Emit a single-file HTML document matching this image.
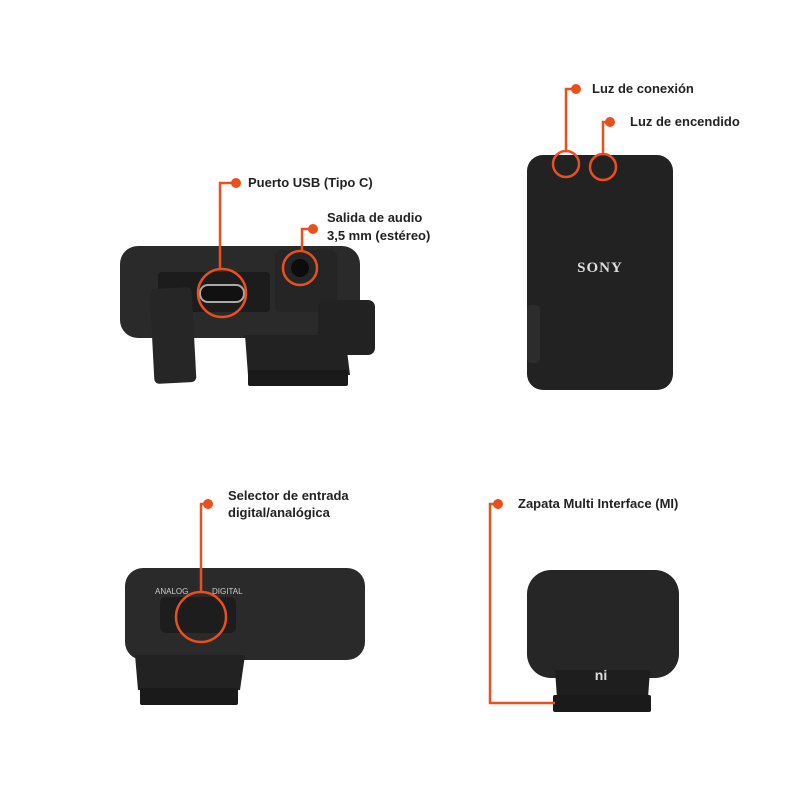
<!DOCTYPE html>
<html><head><meta charset="utf-8"><style>
html,body{margin:0;padding:0;background:#fff;}
svg text{font-family:"Liberation Sans",sans-serif;font-weight:bold;font-size:13px;fill:#222;}
</style></head><body>
<svg width="800" height="800" viewBox="0 0 800 800" xmlns="http://www.w3.org/2000/svg">
<rect width="800" height="800" fill="#fff"/>
<!-- Top-left device -->
<rect x="120" y="246" width="240" height="92" rx="18" fill="#2a2a2a"/>
<rect x="158" y="272" width="112" height="40" rx="4" fill="#1c1c1c"/>
<rect x="275" y="250" width="62" height="62" rx="6" fill="#252525"/>
<circle cx="300" cy="268" r="9" fill="#0c0c0c"/>
<rect x="200" y="285" width="44" height="17" rx="8" fill="#111" stroke="#aaa" stroke-width="2"/>
<path d="M245 335 L345 335 L350 375 L248 375 Z" fill="#222"/>
<rect x="248" y="370" width="100" height="16" rx="2" fill="#1a1a1a"/>
<rect x="152" y="288" width="42" height="95" rx="5" fill="#262626" transform="rotate(-3 173 335)"/>
<rect x="318" y="300" width="57" height="55" rx="7" fill="#222"/>
<!-- Top-right device -->
<rect x="527" y="155" width="146" height="235" rx="16" fill="#222"/>
<text x="600" y="272" text-anchor="middle" style="font-family:'Liberation Serif',serif;font-size:15px;fill:#ddd;letter-spacing:1px">SONY</text>
<rect x="527" y="305" width="13" height="58" rx="4" fill="#2c2c2c"/>
<!-- Bottom-left device -->
<rect x="125" y="568" width="240" height="92" rx="18" fill="#2a2a2a"/>
<rect x="160" y="597" width="76" height="36" rx="6" fill="#1d1d1d"/>
<text x="155" y="594" style="font-size:8px;fill:#ccc;font-weight:normal">ANALOG</text>
<text x="212" y="594" style="font-size:8px;fill:#ccc;font-weight:normal">DIGITAL</text>
<path d="M135 655 L245 655 L240 690 L138 690 Z" fill="#222"/>
<rect x="140" y="688" width="98" height="17" rx="2" fill="#1a1a1a"/>
<!-- Bottom-right device -->
<rect x="527" y="570" width="152" height="108" rx="24" fill="#262626"/>
<path d="M555 670 L650 670 L648 698 L557 698 Z" fill="#1e1e1e"/>
<rect x="553" y="695" width="98" height="17" rx="2" fill="#1a1a1a"/>
<text x="601" y="680" text-anchor="middle" style="fill:#ddd;font-size:14px">ni</text>
<!-- Callouts -->
<g stroke="#e8501e" stroke-width="2.5" fill="none">
<circle cx="222" cy="293" r="24"/>
<polyline points="220,269 220,183 236,183"/>
<circle cx="300" cy="268" r="17"/>
<polyline points="302,251 302,229 313,229"/>
<circle cx="566" cy="164" r="13"/>
<polyline points="566,151 566,89 576,89"/>
<circle cx="603" cy="167" r="13"/>
<polyline points="603,154 603,122 610,122"/>
<circle cx="201" cy="617" r="25"/>
<polyline points="201,592 201,504 208,504"/>
<polyline points="555,703 490,703 490,504 498,504"/>
</g>
<g fill="#e8501e">
<circle cx="236" cy="183" r="5"/><circle cx="313" cy="229" r="5"/>
<circle cx="576" cy="89" r="5"/><circle cx="610" cy="122" r="5"/>
<circle cx="208" cy="504" r="5"/><circle cx="498" cy="504" r="5"/>
</g>
<text x="248" y="187">Puerto USB (Tipo C)</text>
<text x="327" y="222">Salida de audio</text>
<text x="327" y="240">3,5 mm (estéreo)</text>
<text x="592" y="93">Luz de conexión</text>
<text x="630" y="126">Luz de encendido</text>
<text x="228" y="500">Selector de entrada</text>
<text x="228" y="517">digital/analógica</text>
<text x="518" y="508">Zapata Multi Interface (MI)</text>
</svg>
</body></html>
